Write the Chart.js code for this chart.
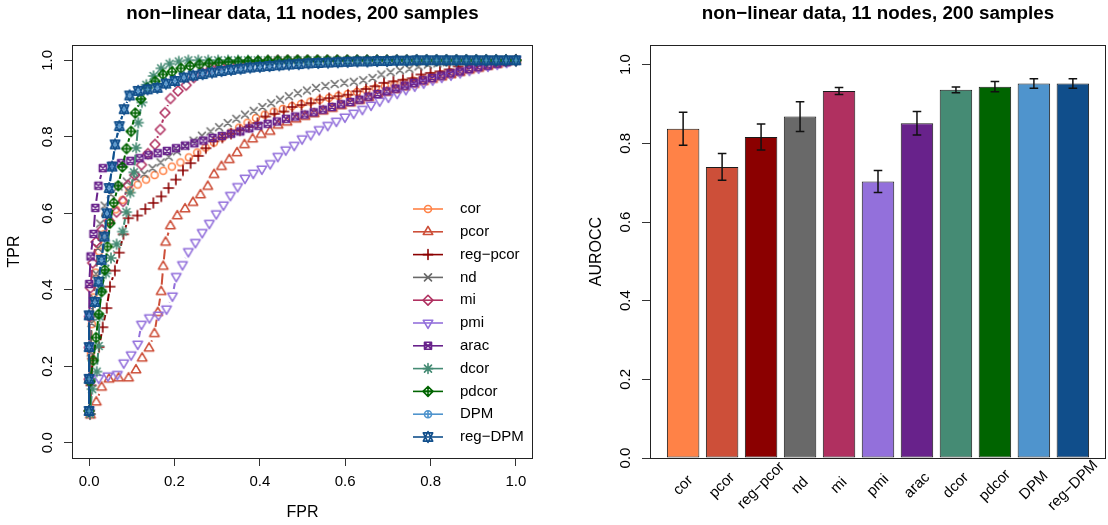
<!DOCTYPE html>
<html>
<head>
<meta charset="utf-8">
<title>non−linear data, 11 nodes, 200 samples</title>
<script src="https://cdn.jsdelivr.net/npm/chart.js"></script>
<style>
  html, body { margin: 0; padding: 0; background: #fff; overflow: hidden; }
  #wrap { position: relative; width: 1108px; height: 525px; }
  .panel { position: absolute; top: 0; width: 554px; height: 525px; }
</style>
</head>
<body>
<div id="wrap">
  <div class="panel" style="left:0"><canvas id="rocChart"></canvas></div>
  <div class="panel" style="left:554px"><canvas id="aurocChart"></canvas></div>
</div>
<script>
// ---- data ----
const plotTitle = 'non\u2212linear data, 11 nodes, 200 samples';
const methods = ['cor', 'pcor', 'reg\u2212pcor', 'nd', 'mi', 'pmi', 'arac', 'dcor', 'pdcor', 'DPM', 'reg\u2212DPM'];
const colors = ['#FF8247', '#CD4F39', '#8B0000', '#696969', '#B03060', '#9370DB', '#68228B', '#458B74', '#006400', '#4F94CD', '#104E8B'];
const symbols = [1, 2, 3, 4, 5, 6, 7, 8, 9, 10, 11];   // R pch codes

const axisTicks = [0, 0.2, 0.4, 0.6, 0.8, 1.0];

// mean AUROCC and error bar half-widths
const aurocc    = [0.837, 0.740, 0.816, 0.868, 0.933, 0.703, 0.851, 0.936, 0.944, 0.952, 0.952];
const auroccErr = [0.042, 0.034, 0.033, 0.038, 0.009, 0.028, 0.030, 0.0075, 0.013, 0.012, 0.012];

// averaged ROC curves (one point per threshold step)
const corFPR = [0.0009,0.0019,0.0042,0.0065,0.0102,0.0153,0.0233,0.034,0.0474,0.0623,0.0786,0.0949,0.114,0.1336,0.1535,0.1737,0.1939,0.214,0.2337,0.2533,0.2729,0.2926,0.3122,0.3318,0.3514,0.3711,0.391,0.4117,0.4327,0.454,0.4753,0.4969,0.5185,0.5404,0.5622,0.5841,0.606,0.6278,0.6497,0.6715,0.6934,0.7153,0.7371,0.759,0.7808,0.8024,0.8243,0.8461,0.868,0.8899,0.9117,0.9336,0.9557,0.9779,1];
const corTPR = [0.080,0.160,0.235,0.310,0.380,0.445,0.500,0.545,0.580,0.610,0.635,0.660,0.675,0.688,0.700,0.711,0.722,0.733,0.746,0.759,0.772,0.785,0.798,0.811,0.824,0.837,0.849,0.858,0.866,0.873,0.880,0.886,0.892,0.897,0.902,0.907,0.912,0.917,0.922,0.927,0.932,0.937,0.942,0.947,0.952,0.958,0.963,0.968,0.973,0.978,0.983,0.988,0.992,0.996,1];

const pcorFPR = [0.0032,0.0169,0.0293,0.0467,0.0691,0.0924,0.1098,0.1244,0.1404,0.153,0.1609,0.1688,0.1737,0.1793,0.1906,0.2066,0.2248,0.2434,0.261,0.2781,0.2927,0.3101,0.3284,0.3466,0.364,0.3831,0.403,0.424,0.4428,0.4638,0.4848,0.5061,0.5274,0.5487,0.57,0.5913,0.6126,0.634,0.6553,0.6766,0.6979,0.7192,0.7405,0.7618,0.7831,0.8047,0.8262,0.8478,0.8694,0.891,0.9128,0.9347,0.9566,0.9781,1];
const pcorTPR = [0.072,0.106,0.145,0.166,0.169,0.169,0.190,0.221,0.247,0.285,0.340,0.395,0.461,0.524,0.567,0.593,0.611,0.628,0.648,0.670,0.701,0.722,0.740,0.758,0.779,0.794,0.806,0.814,0.830,0.838,0.846,0.853,0.860,0.867,0.874,0.881,0.888,0.895,0.902,0.909,0.916,0.923,0.930,0.937,0.944,0.950,0.956,0.962,0.968,0.974,0.979,0.984,0.989,0.995,1];

const regPcorFPR = [0.0023,0.0047,0.0084,0.0233,0.032,0.0413,0.0489,0.0605,0.0706,0.0805,0.092,0.1133,0.1318,0.1506,0.1691,0.1862,0.2033,0.2199,0.2379,0.2558,0.2735,0.2917,0.3122,0.3326,0.3534,0.3741,0.3946,0.4131,0.4344,0.456,0.4759,0.4978,0.5196,0.5404,0.5625,0.5844,0.6065,0.6273,0.6488,0.6701,0.6909,0.713,0.7352,0.7573,0.7778,0.7999,0.8221,0.8439,0.8649,0.8865,0.9092,0.9316,0.9543,0.977,1];
const regPcorTPR = [0.075,0.150,0.220,0.250,0.302,0.352,0.408,0.450,0.497,0.545,0.587,0.594,0.611,0.627,0.644,0.666,0.688,0.712,0.731,0.750,0.770,0.788,0.798,0.808,0.817,0.826,0.836,0.853,0.860,0.866,0.878,0.883,0.888,0.897,0.901,0.906,0.910,0.919,0.925,0.932,0.941,0.945,0.949,0.953,0.963,0.967,0.971,0.976,0.984,0.990,0.992,0.995,0.997,0.999,1];

const ndFPR = [0.0004,0.0007,0.0039,0.0057,0.0108,0.0162,0.0207,0.0261,0.0363,0.051,0.0688,0.0885,0.109,0.1294,0.1485,0.1675,0.1866,0.206,0.2253,0.2447,0.2643,0.2845,0.3047,0.3248,0.345,0.3652,0.3857,0.4061,0.4266,0.4473,0.4681,0.4891,0.5104,0.5317,0.5536,0.5754,0.5979,0.6203,0.6424,0.664,0.6847,0.7063,0.7282,0.7503,0.7719,0.7938,0.8162,0.8386,0.8613,0.8843,0.9073,0.9302,0.9535,0.9767,1];
const ndTPR = [0.082,0.164,0.236,0.313,0.378,0.442,0.509,0.573,0.620,0.650,0.670,0.683,0.693,0.703,0.718,0.733,0.748,0.762,0.776,0.790,0.803,0.814,0.825,0.836,0.847,0.858,0.868,0.878,0.888,0.897,0.906,0.914,0.921,0.928,0.933,0.938,0.941,0.944,0.948,0.954,0.963,0.969,0.974,0.978,0.984,0.989,0.992,0.995,0.997,0.998,0.999,1,1,1,1];

const miFPR = [0.0001,0.0002,0.0003,0.0009,0.0033,0.0084,0.0163,0.0306,0.0474,0.0643,0.0797,0.0913,0.107,0.1227,0.1379,0.1544,0.1668,0.1778,0.1907,0.2084,0.2274,0.2451,0.2647,0.2852,0.3065,0.3284,0.3508,0.3732,0.3959,0.4189,0.4419,0.4651,0.4884,0.5116,0.5349,0.5581,0.5814,0.6047,0.6279,0.6512,0.6744,0.6977,0.7209,0.7442,0.7674,0.7907,0.814,0.8372,0.8605,0.8837,0.907,0.9302,0.9535,0.9767,1];
const miTPR = [0.083,0.166,0.249,0.330,0.405,0.470,0.525,0.557,0.580,0.603,0.631,0.673,0.700,0.727,0.756,0.780,0.819,0.863,0.900,0.920,0.935,0.955,0.968,0.978,0.985,0.990,0.993,0.996,0.998,0.999,1,1,1,1,1,1,1,1,1,1,1,1,1,1,1,1,1,1,1,1,1,1,1,1,1];

const pmiFPR = [0.0009,0.0033,0.0226,0.0442,0.0663,0.0812,0.0986,0.114,0.1228,0.1413,0.1626,0.1814,0.1952,0.2042,0.2188,0.2326,0.2491,0.2651,0.2817,0.298,0.3148,0.3311,0.3479,0.3652,0.3847,0.4048,0.4242,0.4421,0.4607,0.4806,0.4991,0.5193,0.5389,0.5591,0.5793,0.5994,0.6199,0.6404,0.6606,0.6807,0.7012,0.7217,0.7421,0.7629,0.7839,0.8049,0.8262,0.8478,0.8694,0.891,0.9126,0.9344,0.9563,0.9781,1];
const pmiTPR = [0.080,0.155,0.169,0.175,0.179,0.209,0.230,0.258,0.310,0.327,0.334,0.350,0.384,0.435,0.466,0.500,0.524,0.550,0.574,0.599,0.622,0.647,0.670,0.692,0.705,0.716,0.730,0.749,0.766,0.778,0.795,0.806,0.819,0.830,0.841,0.852,0.862,0.872,0.883,0.894,0.904,0.914,0.924,0.933,0.941,0.949,0.956,0.962,0.968,0.974,0.980,0.985,0.990,0.995,1];

const aracFPR = [0,0,0,0,0.0005,0.0036,0.0104,0.0147,0.0218,0.0322,0.0538,0.0751,0.0967,0.118,0.139,0.1608,0.1824,0.2037,0.225,0.2466,0.2679,0.2892,0.3111,0.3327,0.3542,0.3753,0.3966,0.4184,0.44,0.4613,0.4829,0.5047,0.5263,0.5476,0.5689,0.5902,0.6118,0.6334,0.6544,0.6757,0.697,0.7183,0.7394,0.7607,0.782,0.8035,0.8251,0.8467,0.8686,0.8901,0.912,0.9341,0.956,0.9781,1];
const aracTPR = [0.083,0.167,0.250,0.333,0.415,0.487,0.546,0.614,0.672,0.718,0.724,0.731,0.737,0.744,0.752,0.757,0.763,0.770,0.777,0.783,0.790,0.797,0.802,0.808,0.814,0.822,0.829,0.834,0.840,0.847,0.853,0.858,0.864,0.871,0.878,0.885,0.891,0.897,0.905,0.912,0.919,0.926,0.934,0.941,0.948,0.954,0.960,0.966,0.971,0.977,0.982,0.986,0.991,0.995,1];

const dcorFPR = [0.0023,0.0074,0.0179,0.0224,0.0242,0.0279,0.0392,0.0513,0.0645,0.0785,0.0875,0.0966,0.105,0.1104,0.1153,0.1237,0.1341,0.151,0.1687,0.1886,0.2101,0.2326,0.2558,0.2791,0.3023,0.3256,0.3488,0.3721,0.3953,0.4186,0.4419,0.4651,0.4884,0.5116,0.5349,0.5581,0.5814,0.6047,0.6279,0.6512,0.6744,0.6977,0.7209,0.7442,0.7674,0.7907,0.814,0.8372,0.8605,0.8837,0.907,0.9302,0.9535,0.9767,1];
const dcorTPR = [0.075,0.140,0.186,0.253,0.330,0.400,0.443,0.483,0.519,0.552,0.603,0.654,0.707,0.771,0.837,0.890,0.936,0.959,0.979,0.991,0.997,1,1,1,1,1,1,1,1,1,1,1,1,1,1,1,1,1,1,1,1,1,1,1,1,1,1,1,1,1,1,1,1,1,1];

const pdcorFPR = [0,0.0019,0.0098,0.0163,0.0225,0.0293,0.0367,0.0429,0.0491,0.0576,0.0683,0.0779,0.0877,0.0984,0.1083,0.1212,0.1364,0.1549,0.1731,0.1944,0.2152,0.2367,0.2589,0.2813,0.304,0.3267,0.3497,0.3727,0.3959,0.4189,0.4421,0.4651,0.4884,0.5116,0.5349,0.5581,0.5814,0.6047,0.6279,0.6512,0.6744,0.6977,0.7209,0.7442,0.7674,0.7907,0.814,0.8372,0.8605,0.8837,0.907,0.9302,0.9535,0.9767,1];
const pdcorTPR = [0.083,0.160,0.215,0.275,0.336,0.395,0.452,0.513,0.574,0.627,0.672,0.721,0.769,0.814,0.862,0.899,0.928,0.945,0.963,0.970,0.979,0.985,0.989,0.992,0.994,0.996,0.997,0.998,0.998,0.999,0.999,1,1,1,1,1,1,1,1,1,1,1,1,1,1,1,1,1,1,1,1,1,1,1,1];

const dpmFPR = [0,0,0,0,0.0135,0.022,0.029,0.036,0.042,0.047,0.054,0.061,0.071,0.082,0.095,0.115,0.137,0.160,0.180,0.201,0.222,0.2437,0.2659,0.288,0.3101,0.3326,0.355,0.3774,0.4001,0.4228,0.4455,0.4682,0.4912,0.5139,0.5368,0.5598,0.5828,0.6058,0.6287,0.652,0.675,0.6982,0.7212,0.7445,0.7674,0.7907,0.814,0.8372,0.8605,0.8837,0.907,0.9302,0.9535,0.9767,1];
const dpmTPR = [0.083,0.167,0.250,0.333,0.368,0.421,0.478,0.539,0.600,0.666,0.722,0.780,0.828,0.872,0.908,0.920,0.924,0.928,0.939,0.946,0.955,0.960,0.964,0.968,0.972,0.975,0.978,0.981,0.983,0.985,0.987,0.989,0.990,0.992,0.993,0.994,0.995,0.996,0.997,0.997,0.998,0.998,0.999,0.999,1,1,1,1,1,1,1,1,1,1,1];

const regDpmFPR = [0,0,0,0,0.0135,0.022,0.029,0.036,0.042,0.047,0.054,0.061,0.071,0.082,0.095,0.115,0.137,0.160,0.180,0.201,0.222,0.2437,0.2659,0.288,0.3101,0.3326,0.355,0.3774,0.4001,0.4228,0.4455,0.4682,0.4912,0.5139,0.5368,0.5598,0.5828,0.6058,0.6287,0.652,0.675,0.6982,0.7212,0.7445,0.7674,0.7907,0.814,0.8372,0.8605,0.8837,0.907,0.9302,0.9535,0.9767,1];
const regDpmTPR = [0.083,0.167,0.250,0.333,0.368,0.421,0.478,0.539,0.600,0.666,0.722,0.780,0.828,0.872,0.908,0.920,0.924,0.928,0.939,0.946,0.955,0.960,0.964,0.968,0.972,0.975,0.978,0.981,0.983,0.985,0.987,0.989,0.990,0.992,0.993,0.994,0.995,0.996,0.997,0.997,0.998,0.998,0.999,0.999,1,1,1,1,1,1,1,1,1,1,1];

const rocFPR = [corFPR, pcorFPR, regPcorFPR, ndFPR, miFPR, pmiFPR, aracFPR, dcorFPR, pdcorFPR, dpmFPR, regDpmFPR];
const rocTPR = [corTPR, pcorTPR, regPcorTPR, ndTPR, miTPR, pmiTPR, aracTPR, dcorTPR, pdcorTPR, dpmTPR, regDpmTPR];

// ---- look ----
const FONT = "'Liberation Sans', Arial, Helvetica, sans-serif";
const PCH_R = 3.5;      // symbol radius, px
const PCH_LWD = 1.6;
const LINE_GAP = 7;     // type = "b": gap left around each point
Chart.defaults.font.family = FONT;
Chart.defaults.color = '#000';

// draw an R plotting symbol
function drawPch(ctx, pch, x, y, r, color, lw) {
  const s2 = Math.SQRT2 * r;
  const tR = 1.5551 * r, tX = 1.3468 * r, tY = 0.7776 * r;
  const seg = (x0, y0, x1, y1) => { ctx.moveTo(x0, y0); ctx.lineTo(x1, y1); };
  const poly = pts => {
    ctx.moveTo(pts[0][0], pts[0][1]);
    for (let i = 1; i < pts.length; i++) ctx.lineTo(pts[i][0], pts[i][1]);
    ctx.closePath();
  };
  ctx.save();
  ctx.strokeStyle = color;
  ctx.lineWidth = lw;
  ctx.lineJoin = 'round';
  ctx.lineCap = 'round';
  ctx.beginPath();
  switch (pch) {
    case 1: ctx.arc(x, y, r, 0, 2 * Math.PI); break;
    case 2: poly([[x, y - tR], [x + tX, y + tY], [x - tX, y + tY]]); break;
    case 3: seg(x - s2, y, x + s2, y); seg(x, y - s2, x, y + s2); break;
    case 4: seg(x - r, y - r, x + r, y + r); seg(x - r, y + r, x + r, y - r); break;
    case 5: poly([[x, y - s2], [x + s2, y], [x, y + s2], [x - s2, y]]); break;
    case 6: poly([[x, y + tR], [x + tX, y - tY], [x - tX, y - tY]]); break;
    case 7:
      ctx.rect(x - r, y - r, 2 * r, 2 * r);
      seg(x - r, y - r, x + r, y + r); seg(x - r, y + r, x + r, y - r);
      break;
    case 8:
      seg(x - r, y - r, x + r, y + r); seg(x - r, y + r, x + r, y - r);
      seg(x - s2, y, x + s2, y); seg(x, y - s2, x, y + s2);
      break;
    case 9:
      poly([[x, y - s2], [x + s2, y], [x, y + s2], [x - s2, y]]);
      seg(x - s2, y, x + s2, y); seg(x, y - s2, x, y + s2);
      break;
    case 10:
      ctx.arc(x, y, r, 0, 2 * Math.PI);
      seg(x - r, y, x + r, y); seg(x, y - r, x, y + r);
      break;
    case 11: {
      const yc = 0.5 * (tY + tR);
      poly([[x, y + tR], [x + tX, y - yc], [x - tX, y - yc]]);
      poly([[x, y - tR], [x + tX, y + yc], [x - tX, y + yc]]);
      break;
    }
  }
  ctx.stroke();
  ctx.restore();
}

function makeMarker(pch, color) {
  const c = document.createElement('canvas');
  c.width = c.height = 18;
  drawPch(c.getContext('2d'), pch, 9, 9, PCH_R, color, PCH_LWD);
  return c;
}

// each segment is shortened at both ends, like R's type = "b"
function gapDash(ctx) {
  const len = Math.hypot(ctx.p1.x - ctx.p0.x, ctx.p1.y - ctx.p0.y);
  if (len <= 2 * LINE_GAP) return [0, len + 10];
  return [len - 2 * LINE_GAP, 2 * LINE_GAP];
}

const tickGrid = { display: true, drawOnChartArea: false, drawTicks: true, tickLength: 8, color: '#333', lineWidth: 1 };
const setTicks = scale => { scale.ticks = axisTicks.map(v => ({ value: v })); };

// box, main title and vertical y tick labels
const framePlugin = {
  id: 'frame',
  afterDraw(chart) {
    const { ctx, chartArea: a } = chart;
    ctx.save();
    ctx.strokeStyle = '#222';
    ctx.lineWidth = 1;
    ctx.strokeRect(Math.round(a.left) + 0.5, Math.round(a.top) + 0.5, Math.round(a.right - a.left) - 1, Math.round(a.bottom - a.top));

    ctx.fillStyle = '#000';
    ctx.textAlign = 'center';
    ctx.textBaseline = 'middle';
    ctx.font = 'bold 18.8px ' + FONT;
    ctx.fillText(plotTitle, (a.left + a.right) / 2, 14);

    ctx.font = '15px ' + FONT;
    const ys = chart.scales.y;
    ys.ticks.forEach(t => {
      ctx.save();
      ctx.translate(a.left - 24, ys.getPixelForValue(t.value));
      ctx.rotate(-Math.PI / 2);
      ctx.fillText(t.value.toFixed(1), 0, 0);
      ctx.restore();
    });
    ctx.restore();
  }
};

// legend in the lower right of the ROC panel
const rocLegend = {
  id: 'rocLegend',
  afterDraw(chart) {
    const { ctx, chartArea: a } = chart;
    ctx.save();
    ctx.font = '15px ' + FONT;
    ctx.textBaseline = 'middle';
    ctx.textAlign = 'left';
    methods.forEach((name, i) => {
      const y = a.bottom - 21 - 22.8 * (methods.length - 1 - i);
      ctx.strokeStyle = colors[i];
      ctx.lineWidth = 1.6;
      ctx.beginPath();
      ctx.moveTo(a.right - 120, y);
      ctx.lineTo(a.right - 90, y);
      ctx.stroke();
      drawPch(ctx, symbols[i], a.right - 105, y, PCH_R, colors[i], PCH_LWD);
      ctx.fillStyle = '#000';
      ctx.fillText(name, a.right - 73, y);
    });
    ctx.restore();
  }
};

// bar centres as laid out by barplot(space = 0.2)
const barCenters = methods.map((m, i) => 0.7 + 1.2 * i);

const errorBars = {
  id: 'errorBars',
  afterDatasetsDraw(chart) {
    const { ctx, scales: { x, y } } = chart;
    ctx.save();
    ctx.strokeStyle = '#111';
    ctx.lineWidth = 1.5;
    ctx.beginPath();
    aurocc.forEach((v, i) => {
      const px = x.getPixelForValue(barCenters[i]);
      const lo = y.getPixelForValue(v - auroccErr[i]);
      const hi = y.getPixelForValue(v + auroccErr[i]);
      ctx.moveTo(px, lo); ctx.lineTo(px, hi);
      ctx.moveTo(px - 4.3, lo); ctx.lineTo(px + 4.3, lo);
      ctx.moveTo(px - 4.3, hi); ctx.lineTo(px + 4.3, hi);
    });
    ctx.stroke();
    ctx.restore();
  }
};

// method names at 45 degrees under the bars
const barNames = {
  id: 'barNames',
  afterDraw(chart) {
    const { ctx, chartArea: a, scales: { x } } = chart;
    ctx.save();
    ctx.font = '15px ' + FONT;
    ctx.fillStyle = '#000';
    ctx.textAlign = 'center';
    ctx.textBaseline = 'middle';
    methods.forEach((name, i) => {
      ctx.save();
      ctx.translate(x.getPixelForValue(barCenters[i]), a.bottom + 27.5);
      ctx.rotate(-Math.PI / 4);
      ctx.fillText(name, 0, 0);
      ctx.restore();
    });
    ctx.restore();
  }
};

const markers = methods.map((m, i) => makeMarker(symbols[i], colors[i]));

new Chart(document.getElementById('rocChart'), {
  type: 'scatter',
  data: {
    datasets: methods.map((name, i) => ({
      label: name,
      data: rocFPR[i].map((fpr, j) => ({ x: fpr, y: rocTPR[i][j] })),
      showLine: true,
      borderColor: colors[i],
      borderWidth: 2,
      pointStyle: markers[i],
      pointRadius: 4,
      pointHoverRadius: 4,
      order: methods.length - i,
      segment: { borderDash: gapDash, borderDashOffset: -LINE_GAP }
    }))
  },
  options: {
    responsive: true,
    maintainAspectRatio: false,
    animation: false,
    events: [],
    layout: { padding: { top: 45, right: 21, left: 0, bottom: 0 } },
    plugins: { legend: { display: false }, tooltip: { enabled: false } },
    scales: {
      x: {
        type: 'linear', min: -0.04, max: 1.04,
        afterBuildTicks: setTicks,
        afterFit: s => { s.height = 67; },
        grid: tickGrid,
        border: { display: false },
        ticks: { font: { size: 15 }, padding: 7, callback: v => v.toFixed(1) },
        title: { display: true, text: 'FPR', font: { size: 16 }, padding: { top: 0, bottom: 2.4 } }
      },
      y: {
        type: 'linear', min: -0.04, max: 1.04,
        afterBuildTicks: setTicks,
        afterFit: s => { s.width = 72; },
        grid: tickGrid,
        border: { display: false },
        ticks: { display: false },
        title: { display: true, text: 'TPR', font: { size: 16 }, padding: { top: 5.4, bottom: 0 } }
      }
    }
  },
  plugins: [framePlugin, rocLegend]
});

new Chart(document.getElementById('aurocChart'), {
  type: 'bar',
  data: {
    datasets: [{
      label: 'AUROCC',
      data: methods.map((m, i) => ({ x: barCenters[i], y: aurocc[i] })),
      backgroundColor: colors,
      borderColor: '#1a1a1a',
      borderWidth: 1,
      borderSkipped: false,
      categoryPercentage: 1,
      barPercentage: 1 / 1.2
    }]
  },
  options: {
    responsive: true,
    maintainAspectRatio: false,
    animation: false,
    events: [],
    layout: { padding: { top: 45, right: 2, left: 0, bottom: 0 } },
    plugins: { legend: { display: false }, tooltip: { enabled: false } },
    scales: {
      x: {
        type: 'linear', min: -0.32, max: 13.72, offset: false,
        afterFit: s => { s.height = 67; },
        grid: { display: false },
        border: { display: false },
        ticks: { display: false }
      },
      y: {
        type: 'linear', min: 0, max: 1.05,
        afterBuildTicks: setTicks,
        afterFit: s => { s.width = 96; },
        grid: tickGrid,
        border: { display: false },
        ticks: { display: false },
        title: { display: true, text: 'AUROCC', font: { size: 16 }, padding: { top: 33.4, bottom: 0 } }
      }
    }
  },
  plugins: [framePlugin, errorBars, barNames]
});
</script>
</body>
</html>
